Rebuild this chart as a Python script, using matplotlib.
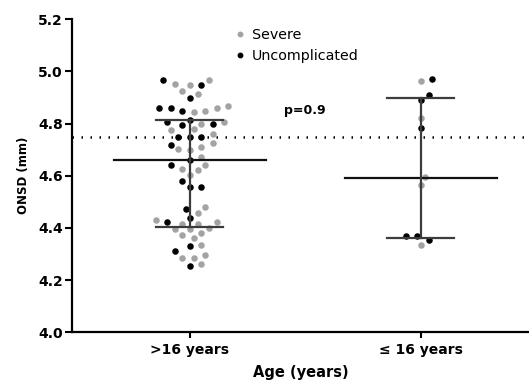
import numpy as np
import matplotlib
matplotlib.use("Agg")
import matplotlib.pyplot as plt
from matplotlib.lines import Line2D

# ONSD values (mm)
groups = [">16 years", "\u2264 16 years"]
severe = [
    [4.966, 4.953, 4.947, 4.924, 4.914, 4.867, 4.860, 4.844, 4.847, 4.806,
     4.799, 4.780, 4.775, 4.760, 4.724, 4.710, 4.704, 4.672, 4.699, 4.640,
     4.627, 4.621, 4.602, 4.480, 4.458, 4.429, 4.423, 4.415, 4.395, 4.382,
     4.372, 4.361, 4.395, 4.400, 4.333, 4.285, 4.295, 4.285, 4.263, 4.415],
    [4.962, 4.822, 4.595, 4.565, 4.335],
]
uncomplicated = [
    [4.966, 4.949, 4.898, 4.860, 4.847, 4.860, 4.812, 4.793, 4.799, 4.806,
     4.749, 4.749, 4.749, 4.719, 4.659, 4.640, 4.579, 4.557, 4.557, 4.471,
     4.423, 4.439, 4.331, 4.310, 4.253],
    [4.972, 4.911, 4.890, 4.783, 4.369, 4.355, 4.369],
]
medians = [4.659, 4.591]
q1 = [4.405, 4.361]
q3 = [4.814, 4.899]
cutoff = 4.75
p_text = "p=0.9"

GRAY = "#a3a3a3"
DARK = "#3c3c3c"


def swarm_offsets(ax, values, diam):
    """Beeswarm x offsets (in pixels) so points of diameter `diam` px don't overlap."""
    ypix = ax.transData.transform(np.column_stack([np.zeros(len(values)), values]))[:, 1]
    step = diam * 0.45
    cands = [0.0]
    for j in range(1, 60):
        cands += [j * step, -j * step]
    placed = []
    xs = np.zeros(len(values))
    for i in np.argsort(ypix):
        for c in cands:
            if all((c - px) ** 2 + (ypix[i] - py) ** 2 >= diam ** 2 for px, py in placed):
                xs[i] = c
                placed.append((c, ypix[i]))
                break
    return xs


fig = plt.figure(figsize=(5.29, 3.83), dpi=100)
ax = fig.add_axes([0.136, 0.1324, 0.864, 0.8175])
ax.set_xlim(-0.511, 1.468)
ax.set_ylim(4.0, 5.2)

px_per_unit = ax.transData.transform([[1, 0]])[0, 0] - ax.transData.transform([[0, 0]])[0, 0]

for g in range(len(groups)):
    vals = np.array(severe[g] + uncomplicated[g])
    is_sev = np.array([True] * len(severe[g]) + [False] * len(uncomplicated[g]))
    off = swarm_offsets(ax, vals, 8.5) / px_per_unit
    ax.scatter(g + off[is_sev], vals[is_sev], s=22, color=GRAY, lw=0, zorder=2)
    ax.scatter(g + off[~is_sev], vals[~is_sev], s=22, color="black", lw=0, zorder=2)

    # median and interquartile range
    ax.plot([g - 0.33, g + 0.33], [medians[g]] * 2, color="#111111", lw=1.6, zorder=3)
    ax.plot([g - 0.145, g + 0.145], [q1[g]] * 2, color=DARK, lw=1.6, zorder=3)
    ax.plot([g - 0.145, g + 0.145], [q3[g]] * 2, color=DARK, lw=1.6, zorder=3)
    ax.plot([g, g], [q1[g], q3[g]], color=DARK, lw=1.6, zorder=3)

ax.axhline(cutoff, color="black", lw=1.8, linestyle=(0, (0.6, 3.0)), zorder=1)
ax.text(0.497, 4.849, p_text, ha="center", va="center", fontsize=9, fontweight="bold")

ax.set_xticks(range(len(groups)))
ax.set_xticklabels(groups)
ax.set_yticks(np.arange(4.0, 5.21, 0.2))
ax.set_yticklabels([f"{v:.1f}" for v in np.arange(4.0, 5.21, 0.2)])
for lab in ax.get_xticklabels() + ax.get_yticklabels():
    lab.set_fontweight("bold")
    lab.set_fontsize(10)
ax.tick_params(axis="y", length=5, width=1.5, pad=1.5)
ax.tick_params(axis="x", length=4, width=1.5, pad=4)

ax.spines["top"].set_visible(False)
ax.spines["right"].set_visible(False)
ax.spines["left"].set_linewidth(1.6)
ax.spines["bottom"].set_linewidth(1.6)

ax.set_xlabel("Age (years)", fontsize=10.5, fontweight="bold", labelpad=5.5)
ax.set_ylabel("ONSD (mm)", fontsize=8.5, fontweight="bold", labelpad=6)

handles = [
    Line2D([], [], marker="o", ls="none", color=GRAY, ms=3.2),
    Line2D([], [], marker="o", ls="none", color="black", ms=3.2),
]
ax.legend(handles, ["Severe", "Uncomplicated"], loc="upper left",
          bbox_to_anchor=(0.342, 0.99), frameon=False, fontsize=10.3,
          handlelength=0.8, handletextpad=0.45, labelspacing=0.5, borderaxespad=0)

fig.savefig("out.png", dpi=100)
